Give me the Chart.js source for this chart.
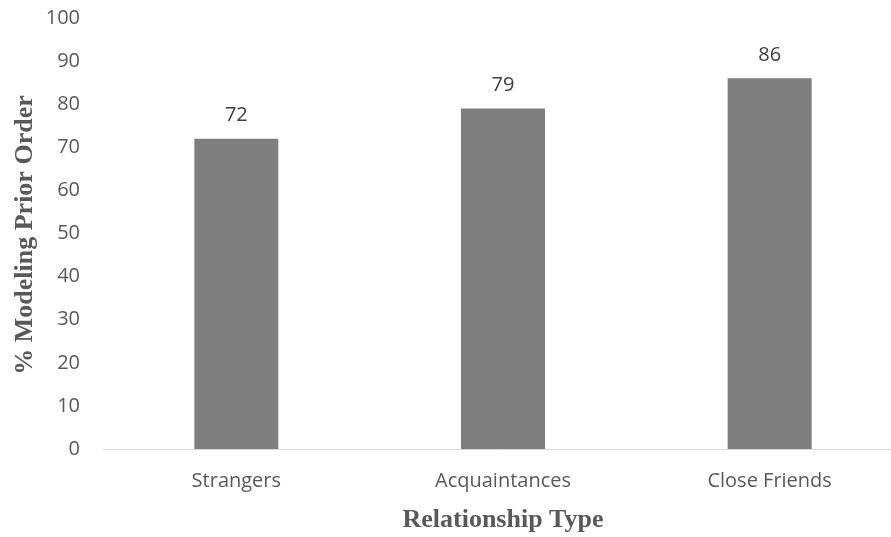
<!DOCTYPE html>
<html>
<head>
<meta charset="utf-8">
<script src="https://cdn.jsdelivr.net/npm/chart.js@4/dist/chart.umd.min.js"></script>
<style>
  html, body { margin: 0; padding: 0; background: #fff; overflow: hidden; }
  #wrap { width: 905px; height: 537px; }
</style>
</head>
<body>
<div id="wrap"><canvas id="chart"></canvas></div>
<script>
const categories = ['Strangers', 'Acquaintances', 'Close Friends'];
const values = [72, 79, 86];
const yTicks = [0, 10, 20, 30, 40, 50, 60, 70, 80, 90, 100];
const xTitle = 'Relationship Type';
const yTitle = '% Modeling Prior Order';

const tickColor = '#595959';
const barColor = '#7f7f7f';

// value labels above each bar
const barLabels = {
    id: 'barLabels',
    afterDatasetsDraw(chart) {
        const ctx = chart.ctx;
        const meta = chart.getDatasetMeta(0);
        ctx.save();
        ctx.font = '20px "Open Sans"';
        ctx.fillStyle = '#404040';
        ctx.textAlign = 'center';
        ctx.textBaseline = 'middle';
        meta.data.forEach((bar, i) => {
            ctx.fillText(String(values[i]), bar.x, bar.y - 23);
        });
        ctx.restore();
    }
};

// axis titles in bold serif
const axisTitles = {
    id: 'axisTitles',
    afterDraw(chart) {
        const ctx = chart.ctx;
        const area = chart.chartArea;
        ctx.save();
        ctx.font = 'bold 26px "Liberation Serif"';
        ctx.fillStyle = tickColor;
        ctx.textAlign = 'center';
        ctx.textBaseline = 'alphabetic';
        ctx.fillText(xTitle, (area.left + area.right) / 2, 527);
        ctx.translate(32, 235);
        ctx.rotate(-Math.PI / 2);
        ctx.fillText(yTitle, 0, 0);
        ctx.restore();
    }
};

new Chart(document.getElementById('chart'), {
    type: 'bar',
    data: {
        labels: categories,
        datasets: [{
            data: values,
            backgroundColor: barColor,
            borderWidth: 0,
            barPercentage: 0.315,
            categoryPercentage: 1
        }]
    },
    options: {
        responsive: true,
        maintainAspectRatio: false,
        animation: false,
        layout: { padding: { top: 18, right: 2, left: 0, bottom: 0 } },
        plugins: {
            legend: { display: false },
            tooltip: { enabled: false }
        },
        scales: {
            x: {
                grid: { display: false, drawTicks: false },
                border: { display: true, color: '#d9d9d9', width: 1 },
                ticks: {
                    color: tickColor,
                    font: { family: '"Open Sans"', size: 20 },
                    padding: 20,
                    maxRotation: 0,
                    autoSkip: false
                },
                afterFit(scale) {
                    scale.height = 88;
                    scale.paddingLeft = 0;
                    scale.paddingRight = 0;
                }
            },
            y: {
                min: 0,
                max: 100,
                grid: { display: false, drawTicks: false },
                border: { display: false },
                afterBuildTicks(scale) {
                    scale.ticks = yTicks.map(v => ({ value: v }));
                },
                ticks: {
                    color: tickColor,
                    font: { family: '"Open Sans"', size: 20 },
                    padding: 23
                },
                afterFit(scale) {
                    scale.width = 103;
                    scale.paddingTop = 0;
                    scale.paddingBottom = 0;
                }
            }
        }
    },
    plugins: [barLabels, axisTitles]
});
</script>
</body>
</html>
